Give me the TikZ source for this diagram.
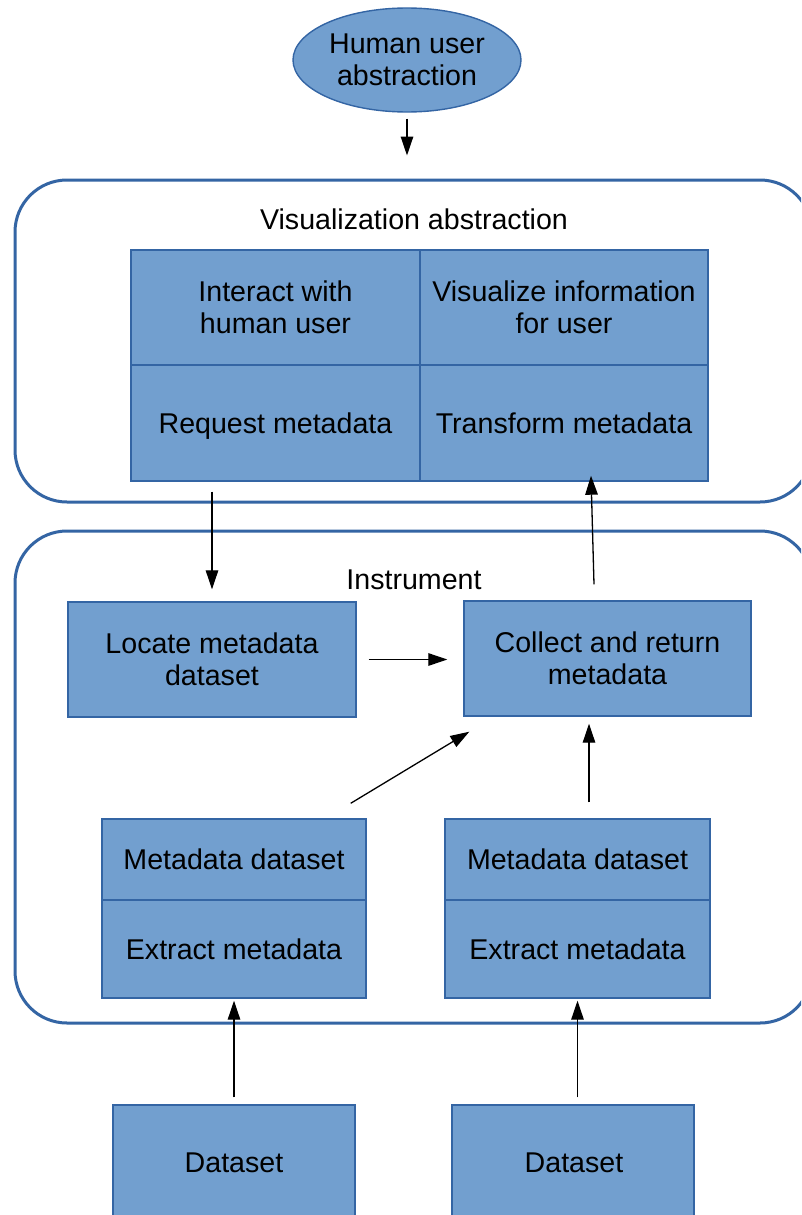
\documentclass[tikz,border=0pt]{standalone}
\usepackage{fontspec}
\setmainfont{Liberation Sans}
\usetikzlibrary{shapes.geometric,arrows.meta,calc}
\definecolor{boxfill}{HTML}{729FCF}
\definecolor{boxline}{HTML}{3465A4}
\tikzset{
  lbl/.style={font=\fontsize{28.6}{32}\selectfont, align=center, text=black},
  cell/.style={lbl, draw=boxline, line width=1.4pt, fill=boxfill, inner sep=0pt},
  container/.style={draw=boxline, line width=3pt, rounded corners=52pt, inner sep=0pt},
  arr/.style={draw=black, line width=1.3pt, -{Triangle[length=19pt,width=12.5pt]}}
}
\begin{document}
\begin{tikzpicture}[x=1pt,y=-1pt]
\clip (0,0) rectangle (801,1215);
\fill[white] (0,0) rectangle (801,1215);

% top ellipse
\node[cell, ellipse, minimum width=228pt, minimum height=104pt] (human) at (407,60) {Human user\\abstraction};

% containers
\node[container, minimum width=797pt, minimum height=322pt] (vis) at (413.5,341) {};
\node[lbl] (vislabel) at (414,219) {Visualization abstraction};
\node[container, minimum width=797pt, minimum height=492pt] (inst) at (413.5,777) {};
\node[lbl] (instlabel) at (414,580) {Instrument};

% visualization grid
\node[cell, minimum width=289pt, minimum height=115pt] (interact) at (275.5,307.5) {Interact with\\human user};
\node[cell, minimum width=288pt, minimum height=115pt] (visinfo) at (564,307.5) {Visualize information\\for user};
\node[cell, minimum width=289pt, minimum height=116pt, text depth=0pt] (request) at (275.5,423) {Request metadata};
\node[cell, minimum width=288pt, minimum height=116pt] (transform) at (564,423) {Transform metadata};

% instrument boxes
\node[cell, minimum width=288pt, minimum height=115pt] (locate) at (212,659.5) {Locate metadata\\dataset};
\node[cell, minimum width=287pt, minimum height=115pt] (collect) at (607.5,658.5) {Collect and return\\metadata};

\node[cell, minimum width=264pt, minimum height=81pt] (mdl) at (234,859.5) {Metadata dataset};
\node[cell, minimum width=264pt, minimum height=98pt] (exl) at (234,949) {Extract metadata};
\node[cell, minimum width=265pt, minimum height=81pt] (mdr) at (577.5,859.5) {Metadata dataset};
\node[cell, minimum width=265pt, minimum height=98pt] (exr) at (577.5,949) {Extract metadata};

% datasets
\node[cell, minimum width=242pt, minimum height=120pt] (dsl) at (234,1165) {};
\node[lbl] at (234,1163) {Dataset};
\node[cell, minimum width=242pt, minimum height=120pt] (dsr) at (573,1165) {};
\node[lbl] at (574,1163) {Dataset};

% connector end points
\coordinate (upstart) at ($(collect.north)+(-13.5,-16)$);
\coordinate (upend) at ($(transform.south)+(27,-6)$);
\coordinate (diagstart) at ($(mdl.north east)+(-16,-15)$);
\coordinate (diagend) at ($(collect.south west)+(6,15)$);
\coordinate (rstart) at ($(mdr.north)+(11.5,-16)$);
\coordinate (rend) at ($(collect.south)+(-18.5,7)$);

% connectors
\draw[arr, shorten <=6pt, shorten >=23pt] (human.south) -- (human.south |- vis.north);
\draw[arr, shorten <=10pt, shorten >=12pt] (locate.north |- request.south) -- (locate.north);
\draw[arr] (upstart) -- (upend);
\draw[arr, shorten <=12pt, shorten >=16pt] (locate.east) -- (collect.west |- locate.east);
\draw[arr] (diagstart) -- (diagend);
\draw[arr] (rstart) -- (rend);
\draw[arr, shorten <=7pt, shorten >=2pt] (dsl.north) -- (exl.south);
\draw[arr, shorten <=7pt, shorten >=2pt] (exr.south |- dsr.north) -- (exr.south);
\end{tikzpicture}
\end{document}
